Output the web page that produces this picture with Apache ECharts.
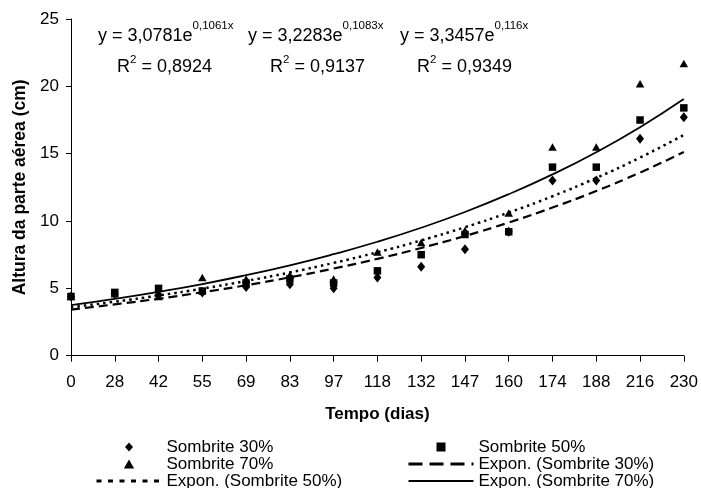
<!DOCTYPE html>
<html>
<head>
<meta charset="utf-8">
<script src="https://cdn.jsdelivr.net/npm/echarts@6/dist/echarts.min.js"></script>
<style>
html,body{margin:0;padding:0;background:#fff;}
#chart{width:701px;height:488px;}
</style>
</head>
<body>
<div id="chart"></div>
<script>
// ---- data ----
const categories = ['0','28','42','55','69','83','97','118','132','147','160','174','188','216','230'];
const sombrite30 = [4.4, 4.6, 4.5, 4.7, 5.1, 5.3, 5.0, 5.8, 6.6, 7.9, 9.2, 13.0, 13.0, 16.1, 17.7];
const sombrite50 = [4.4, 4.7, 5.0, 4.8, 5.4, 5.7, 5.4, 6.3, 7.5, 9.0, 9.2, 14.0, 14.0, 17.5, 18.4];
const sombrite70 = [4.4, 4.6, 4.4, 5.8, 5.7, 6.0, 5.7, 7.7, 8.4, 9.3, 10.6, 15.5, 15.5, 20.2, 21.7];
// trend line values at each category
const trend30 = [3.42, 3.81, 4.23, 4.71, 5.23, 5.82, 6.47, 7.19, 8.00, 8.89, 9.89, 11.00, 12.23, 13.60, 15.12];
const trend50 = [3.60, 4.01, 4.47, 4.98, 5.55, 6.18, 6.89, 7.68, 8.56, 9.54, 10.63, 11.84, 13.20, 14.71, 16.39];
const trend70 = [3.76, 4.22, 4.74, 5.32, 5.98, 6.71, 7.54, 8.46, 9.50, 10.67, 11.99, 13.46, 15.11, 16.97, 19.06];
const eqMain = ['y = 3,0781e', 'y = 3,2283e', 'y = 3,3457e'];
const eqExp = ['0,1061x', '0,1083x', '0,116x'];
const r2Vals = ['0,8924', '0,9137', '0,9349'];

const FONT = '"Liberation Sans", Arial, sans-serif';
const chart = echarts.init(document.getElementById('chart'));

const ctx = document.createElement('canvas').getContext('2d');
function tw(t, size) { ctx.font = size + 'px ' + FONT; return ctx.measureText(t).width; }

const eqX = [98, 248, 400];
const r2X = [117, 270, 417];
const graphics = [];
for (let i = 0; i < 3; i++) {
  const mainSize = 18, supSize = 11.5;
  const tStyle = (text, size) => ({text: text, fontSize: size, fontFamily: FONT, fill: '#000', verticalAlign: 'middle', textVerticalAlign: 'middle'});
  graphics.push({type:'text', x: eqX[i], y: 36, style: tStyle(eqMain[i], mainSize)});
  graphics.push({type:'text', x: eqX[i] + tw(eqMain[i], mainSize), y: 26, style: tStyle(eqExp[i], supSize)});
  const rw = tw('R', mainSize);
  graphics.push({type:'text', x: r2X[i], y: 67, style: tStyle('R', mainSize)});
  graphics.push({type:'text', x: r2X[i] + rw, y: 59.5, style: tStyle('2', supSize)});
  graphics.push({type:'text', x: r2X[i] + rw + tw('2', supSize), y: 67, style: tStyle(' = ' + r2Vals[i], mainSize)});
}

const legendCommon = {
  orient: 'vertical', itemWidth: 65, itemHeight: 9, itemGap: 0, selectedMode: false, padding: 0,
  symbolKeepAspect: true, height: 60,
  textStyle: {fontSize: 17, fontFamily: FONT, color: '#000', lineHeight: 16.5}
};
const ICON_DIAMOND = 'path://M4,0L8,4.5L4,9L0,4.5Z';
const ICON_TRIANGLE = 'path://M4,0L8,7L0,7Z';
const ICON_SQUARE = 'path://M0,0L7,0L7,7L0,7Z';
const HIDE_SYMBOL = {color: 'rgba(0,0,0,0)', borderWidth: 0, opacity: 0};

const option = {
  animation: false,
  backgroundColor: '#fff',
  grid: {left: 71, right: 15, top: 19, bottom: 132.3, containLabel: false},
  xAxis: {
    type: 'category', data: categories, boundaryGap: false,
    name: 'Tempo (dias)', nameLocation: 'middle', nameGap: 50,
    nameTextStyle: {fontSize: 17, fontWeight: 'bold', fontFamily: FONT, color: '#000'},
    axisLine: {lineStyle: {color: '#000', width: 1}},
    axisTick: {show: true, length: 6, alignWithLabel: true, lineStyle: {color: '#000'}},
    axisLabel: {fontSize: 17, fontFamily: FONT, color: '#000', margin: 18, interval: 0},
    splitLine: {show: false}
  },
  yAxis: {
    type: 'value', min: 0, max: 25, interval: 5,
    name: 'Altura da parte aérea (cm)', nameLocation: 'middle', nameGap: 38,
    nameTextStyle: {fontSize: 17.5, fontWeight: 'bold', fontFamily: FONT, color: '#000'},
    axisLine: {show: true, lineStyle: {color: '#000', width: 1}},
    axisTick: {show: true, length: 5, lineStyle: {color: '#000'}},
    axisLabel: {fontSize: 17, fontFamily: FONT, color: '#000', margin: 12},
    splitLine: {show: false}
  },
  legend: [
    Object.assign({}, legendCommon, {left: 95, top: 438.5, data: [
      {name: 'Sombrite 30%', icon: ICON_DIAMOND},
      {name: 'Sombrite 70%', icon: ICON_TRIANGLE},
      {name: 'Expon. (Sombrite 50%)', itemStyle: HIDE_SYMBOL, lineStyle: {type: [5, 6.5], width: 3, color: '#000'}}
    ]}),
    Object.assign({}, legendCommon, {left: 407, top: 438.5, data: [
      {name: 'Sombrite 50%', icon: ICON_SQUARE},
      {name: 'Expon. (Sombrite 30%)', itemStyle: HIDE_SYMBOL, lineStyle: {type: [14, 7], width: 3, color: '#000'}},
      {name: 'Expon. (Sombrite 70%)', itemStyle: HIDE_SYMBOL, lineStyle: {type: 'solid', width: 2, color: '#000'}}
    ]})
  ],
  graphic: graphics,
  series: [
    {name: 'Expon. (Sombrite 30%)', type: 'line', data: trend30, smooth: true, symbol: 'none', showSymbol: false,
     lineStyle: {color: '#000', width: 2.2, type: [9, 5]}, itemStyle: {color: '#000'}},
    {name: 'Expon. (Sombrite 50%)', type: 'line', data: trend50, smooth: true, symbol: 'none', showSymbol: false,
     lineStyle: {color: '#000', width: 2.5, type: [2.5, 4]}, itemStyle: {color: '#000'}},
    {name: 'Expon. (Sombrite 70%)', type: 'line', data: trend70, smooth: true, symbol: 'none', showSymbol: false,
     lineStyle: {color: '#000', width: 1.8, type: 'solid'}, itemStyle: {color: '#000'}},
    {name: 'Sombrite 30%', type: 'scatter', data: sombrite30, symbol: 'diamond', symbolSize: [8, 10],
     itemStyle: {color: '#000', opacity: 1}},
    {name: 'Sombrite 50%', type: 'scatter', data: sombrite50, symbol: 'rect', symbolSize: 7.5,
     itemStyle: {color: '#000', opacity: 1}},
    {name: 'Sombrite 70%', type: 'scatter', data: sombrite70, symbol: 'triangle', symbolSize: [8.5, 7.5],
     itemStyle: {color: '#000', opacity: 1}}
  ]
};
chart.setOption(option);
</script>
</body>
</html>
